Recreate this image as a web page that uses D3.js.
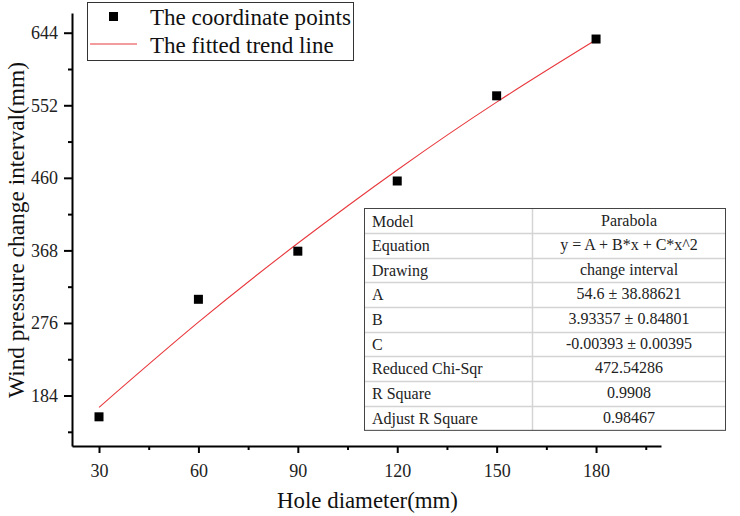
<!DOCTYPE html>
<html>
<head>
<meta charset="utf-8">
<script src="https://cdn.jsdelivr.net/npm/d3@7"></script>
<style>
  body { margin: 0; background: #fff; }
  svg { font-family: "Liberation Serif", "Times New Roman", serif; }
  .axis path, .axis line { stroke: #000; stroke-width: 2; }
  .axis text { font-size: 18px; fill: #222; font-family: "Liberation Serif", serif; }
</style>
</head>
<body>
<script>
// data
var holeDiameter = [30, 60, 90, 120, 150, 180];
var pressureInterval = [157, 306, 367, 456, 564, 636];
// fitted trend line, read at the same x positions
var fitX = [30, 60, 90, 120, 150, 180];
var fitY = [169, 277, 377, 470, 556, 635];

var xMajor = [30, 60, 90, 120, 150, 180];
var xMinor = [45, 75, 105, 135, 165, 195];
var yMajor = [184, 276, 368, 460, 552, 644];
var yMinor = [138, 230, 322, 414, 506, 598];

var tableLabels = ["Model", "Equation", "Drawing", "A", "B", "C", "Reduced Chi-Sqr", "R Square", "Adjust R Square"];
var tableValues = ["Parabola", "y = A + B*x + C*x^2", "change interval", "54.6 \u00b1 38.88621",
    "3.93357 \u00b1 0.84801", "-0.00393 \u00b1 0.00395", "472.54286", "0.9908", "0.98467"];

var legendLabels = ["The coordinate points", "The fitted trend line"];

(function () {
    var width = 740, height = 516;
    var svg = d3.select("body").append("svg")
        .attr("width", width)
        .attr("height", height);

    var x = d3.scaleLinear().domain([21.85, 199.6]).range([72, 661]);
    var y = d3.scaleLinear().domain([120, 669]).range([446, 13]);

    //resize a text node so that it spans the wanted width
    function fitText(sel, wanted) {
        var fs = parseFloat(sel.style("font-size"));
        var len = sel.node().getComputedTextLength();
        sel.style("font-size", (fs * wanted / len).toFixed(2) + "px");
    }

    //minor ticks first
    svg.append("g").attr("class", "axis")
        .attr("transform", "translate(0,446)")
        .call(d3.axisBottom(x).tickValues(xMinor).tickFormat("").tickSize(4).tickSizeOuter(0))
        .select(".domain").remove();
    svg.append("g").attr("class", "axis")
        .attr("transform", "translate(72,0)")
        .call(d3.axisLeft(y).tickValues(yMinor).tickFormat("").tickSize(4).tickSizeOuter(0))
        .select(".domain").remove();

    //major axes
    svg.append("g").attr("class", "axis")
        .attr("transform", "translate(0,446)")
        .call(d3.axisBottom(x).tickValues(xMajor).tickSize(7).tickSizeOuter(0).tickPadding(11));
    svg.append("g").attr("class", "axis")
        .attr("transform", "translate(72,0)")
        .call(d3.axisLeft(y).tickValues(yMajor).tickSize(8).tickSizeOuter(0).tickPadding(6));

    //axis titles
    var xTitle = svg.append("text")
        .attr("x", 367.5).attr("y", 508)
        .attr("text-anchor", "middle")
        .style("font-size", "22px").style("fill", "#111")
        .text("Hole diameter(mm)");
    fitText(xTitle, 181);
    var yTitle = svg.append("text")
        .attr("transform", "translate(24,230) rotate(-90)")
        .attr("text-anchor", "middle")
        .style("font-size", "22px").style("fill", "#111")
        .text("Wind pressure change interval(mm)");
    fitText(yTitle, 336);

    //fitted line
    var line = d3.line()
        .x(function (d, i) { return x(fitX[i]); })
        .y(function (d) { return y(d); })
        .curve(d3.curveNatural);
    svg.append("path")
        .datum(fitY)
        .attr("d", line)
        .attr("fill", "none")
        .attr("stroke", "#e8383d")
        .attr("stroke-width", 1.1);

    //points
    svg.selectAll(".pt")
        .data(pressureInterval)
        .enter()
        .append("rect")
        .attr("class", "pt")
        .attr("x", function (d, i) { return x(holeDiameter[i]) - 4.5; })
        .attr("y", function (d) { return y(d) - 4.5; })
        .attr("width", 9).attr("height", 9)
        .attr("fill", "#000");

    //legend
    var lg = svg.append("g");
    lg.append("rect")
        .attr("x", 87.5).attr("y", 2.5).attr("width", 266).attr("height", 58)
        .attr("fill", "#fff").attr("stroke", "#333").attr("stroke-width", 1);
    lg.append("rect")
        .attr("x", 109).attr("y", 12).attr("width", 9).attr("height", 9).attr("fill", "#000");
    lg.append("line")
        .attr("x1", 90).attr("x2", 137).attr("y1", 44).attr("y2", 44)
        .attr("stroke", "#e8383d").attr("stroke-width", 1.1);
    var lgText = lg.selectAll(".lgText")
        .data(legendLabels)
        .enter()
        .append("text")
        .attr("class", "lgText")
        .attr("x", 150)
        .attr("y", function (d, i) { return 25 + i * 28; })
        .style("font-size", "22px").style("fill", "#111")
        .text(function (d) { return d; });
    var lgSize = parseFloat(lgText.style("font-size")) * 201 / lgText.node().getComputedTextLength();
    lgText.style("font-size", lgSize.toFixed(2) + "px");

    //statistics table
    var tx = 364.5, ty = 208.5, tw = 361, rowH = 24.65, colX = 532.5;
    var tbl = svg.append("g");
    tbl.append("rect")
        .attr("x", tx).attr("y", ty).attr("width", tw).attr("height", rowH * tableLabels.length)
        .attr("fill", "#fff");
    tableLabels.forEach(function (lab, i) {
        if (i > 0) {
            tbl.append("line")
                .attr("x1", tx).attr("x2", tx + tw)
                .attr("y1", Math.round(ty + i * rowH) + 0.5).attr("y2", Math.round(ty + i * rowH) + 0.5)
                .attr("stroke", "#d4d4d4").attr("stroke-width", 1.5);
        }
        tbl.append("text")
            .attr("x", 372).attr("y", ty + i * rowH + 18)
            .style("font-size", "16px").style("fill", "#222")
            .text(lab);
        tbl.append("text")
            .attr("x", (colX + tx + tw) / 2).attr("y", ty + i * rowH + 17)
            .attr("text-anchor", "middle")
            .style("font-size", "16px").style("fill", "#222")
            .text(tableValues[i]);
    });
    tbl.append("line")
        .attr("x1", colX).attr("x2", colX).attr("y1", ty).attr("y2", ty + rowH * tableLabels.length)
        .attr("stroke", "#d4d4d4").attr("stroke-width", 1.5);
    tbl.append("rect")
        .attr("x", tx).attr("y", ty).attr("width", tw).attr("height", rowH * tableLabels.length)
        .attr("fill", "none").attr("stroke", "#444").attr("stroke-width", 1);
})();
</script>
</body>
</html>
